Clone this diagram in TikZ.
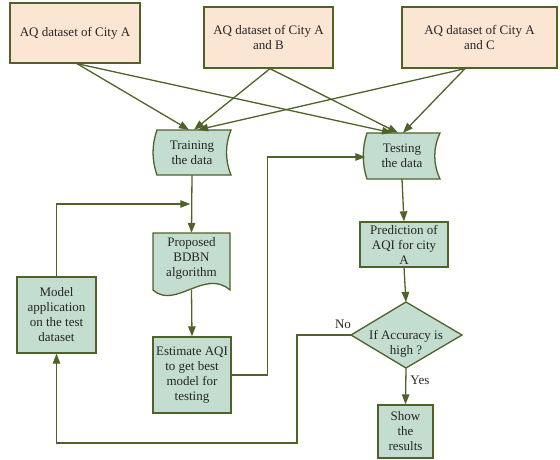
\documentclass[tikz,border=0pt]{standalone}
\usepackage{fontspec}
\setmainfont{Liberation Serif}
\usetikzlibrary{arrows.meta,calc}
\definecolor{olv}{HTML}{4F6228}
\definecolor{peachc}{HTML}{FBE5D3}
\definecolor{greenc}{HTML}{C4DDD1}
\tikzset{
  txt/.style={font=\fontsize{13}{15}\selectfont, align=center, inner sep=0pt, text=black!85},
  peachbox/.style={txt, draw=olv, fill=peachc, line width=1.3pt},
  gbox/.style={txt, draw=olv, fill=greenc, line width=1.3pt},
  gshape/.style={draw=olv, fill=greenc, line width=1.3pt},
  conn/.style={draw=olv, line width=1.3pt, -{Triangle[length=10pt,width=7.5pt]}},
  lbl/.style={font=\fontsize{13}{15}\selectfont, inner sep=0pt, text=black!85},
}
\begin{document}
\begin{tikzpicture}[x=1pt,y=-1pt]
\useasboundingbox (0,0) rectangle (560,460);
% top boxes
\node[peachbox, minimum width=130pt, minimum height=60pt] (a1) at (75,33) {AQ dataset of City A};
\node[peachbox, minimum width=129pt, minimum height=61pt] (a2) at (268.5,37.5) {AQ dataset of City A\\and B};
\node[peachbox, minimum width=155pt, minimum height=61pt] (a3) at (479.5,37.5) {AQ dataset of City A\\and C};
% training (stored data shape)
\draw[gshape] (157,130) -- (231,130) .. controls (225,145) and (225,160) .. (231,175)
  -- (157,175) .. controls (151.7,160) and (151.7,145) .. (157,130) -- cycle;
\node[txt, minimum width=74pt, minimum height=45pt] (tr) at (192,152.5) {Training\\the data};
% testing
\draw[gshape] (367,133) -- (440,133) .. controls (433,148) and (433,164) .. (440,179)
  -- (367,179) .. controls (362,164) and (362,148) .. (367,133) -- cycle;
\node[txt, minimum width=73pt, minimum height=46pt] (te) at (402,156) {Testing\\the data};
% proposed (document shape)
\draw[gshape] (153,233) -- (230,233) -- (230,290) .. controls (205,268) and (175,310) .. (153,290) -- cycle;
\node[txt, minimum width=77pt, minimum height=57pt] (bd) at (191.5,261.5) {};
\node[txt] at (191.5,258) {Proposed\\BDBN\\algorithm};
% estimate
\node[gbox, minimum width=78pt, minimum height=76pt] (es) at (192,375) {Estimate AQI\\to get best\\model for\\testing};
% model application
\node[gbox, minimum width=79pt, minimum height=76pt] (md) at (56.5,315) {Model\\application\\on the test\\dataset};
% prediction
\node[gbox, minimum width=88pt, minimum height=45pt] (pr) at (404,244.5) {Prediction of\\AQI for city\\A};
% decision diamond
\coordinate (dt) at (406,302);
\coordinate (db) at (406,368);
\coordinate (dl) at (351,335);
\coordinate (dr) at (462,335);
\draw[gshape] (dt) -- (dr) -- (db) -- (dl) -- cycle;
\node[txt] (dia) at (406,343.5) {If Accuracy is\\high ?};
% show results
\node[gbox, minimum width=55pt, minimum height=53pt] (sh) at (405.5,431.5) {Show\\the\\results};
% fan connectors
\draw[conn] ([xshift=2pt]a1.south) -- ([xshift=-3pt]tr.north);
\draw[conn] ([xshift=2pt]a1.south) -- ([xshift=-10pt]te.north);
\draw[conn] ([xshift=1.5pt]a2.south) -- ([xshift=2pt]tr.north);
\draw[conn] ([xshift=1.5pt]a2.south) -- ([xshift=-4pt]te.north);
\draw[conn] ([xshift=-14.5pt]a3.south) -- ([xshift=6pt]tr.north);
\draw[conn] ([xshift=-14.5pt]a3.south) -- ([xshift=1pt]te.north);
% main flow
\draw[conn] (tr.south) -- (bd.north);
\draw[conn] (md.north) |- ($(tr.south)!0.5!(bd.north)+(-1.5,0)$);
\draw[conn] (bd.south) -- (es.north);
\draw[conn] (es.east) -- ++(36,0) |- ([yshift=-1pt]te.west);
\draw[conn] (te.south) -- (pr.north);
\draw[conn] (pr.south) -- (dt);
\draw[conn] (db) -- (sh.north) node[lbl, pos=0.35, anchor=west, xshift=4pt] {Yes};
\draw[conn] (dl) -- ++(-54,0) -- ++(0,108) -| (md.south);
\node[lbl] at (343,324) {No};
\end{tikzpicture}
\end{document}
